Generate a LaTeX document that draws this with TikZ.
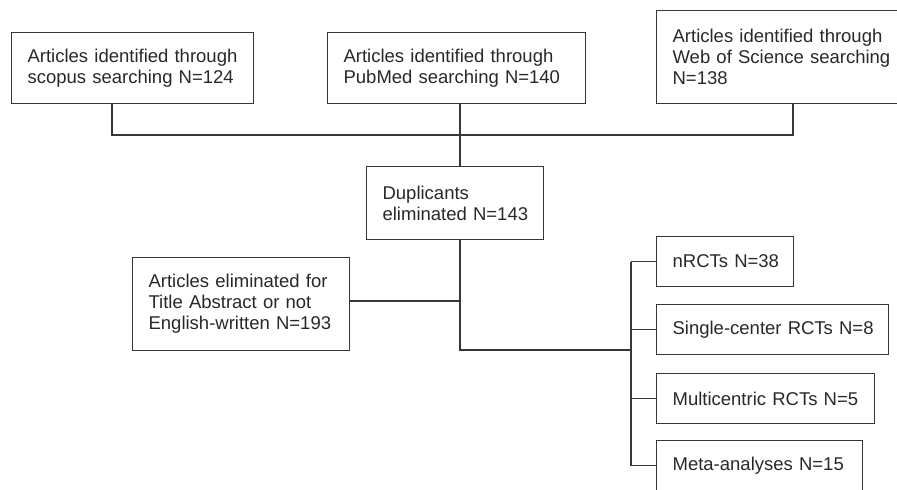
\documentclass[tikz,border=0pt]{standalone}
\usepackage{fontspec}
\setmainfont{Liberation Sans}
\definecolor{linec}{RGB}{55,55,55}
\definecolor{textc}{RGB}{40,40,40}
\begin{document}
\begin{tikzpicture}[x=1pt,y=-1pt,
  box/.style={draw=linec, line width=1.2pt, anchor=north west, inner xsep=16pt, inner ysep=2pt,
    align=left, text=textc, font=\fontsize{18.5}{21}\selectfont},
  conn/.style={draw=linec, line width=1.2pt}]
\useasboundingbox (0,0) rectangle (897,490);
\clip (0,0) rectangle (897,490);
% top row
\node[box, text width=210pt, minimum height=71pt] (b1) at (11,32)
  {\mbox{Articles identified through}\\\mbox{scopus searching N=124}};
\node[box, text width=226pt, minimum height=71pt] (b2) at (327,32)
  {\mbox{Articles identified through}\\\mbox{PubMed searching N=140}};
\node[box, text width=228pt, minimum height=93pt] (b3) at (656,10)
  {\mbox{Articles identified through}\\\mbox{Web of Science searching}\\\mbox{N=138}};
% middle
\node[box, text width=145pt, minimum height=73pt] (dup) at (366,166)
  {\mbox{Duplicants}\\\mbox{eliminated N=143}};
\node[box, text width=185pt, minimum height=93pt] (elim) at (132,257)
  {\mbox{Articles eliminated for}\\\mbox{Title Abstract or not}\\\mbox{English-written N=193}};
% right column
\node[box, text width=105pt, minimum height=50pt] (nrct) at (656,236)
  {\mbox{nRCTs N=38}};
\node[box, text width=200pt, minimum height=50pt] (single) at (656,304)
  {\mbox{Single-center RCTs N=8}};
\node[box, text width=186pt, minimum height=50pt] (multi) at (656,373)
  {\mbox{Multicentric RCTs N=5}};
\node[box, text width=174pt, minimum height=50pt] (meta) at (656,440)
  {\mbox{Meta-analyses N=15}};
% connectors
\coordinate (jL) at (112,135);
\coordinate (jR) at (793,135);
\coordinate (jM) at (460,135);
\draw[conn] (b1.south -| jL) -- (jL) -- (jR) -- (b3.south -| jR);
\draw[conn] (b2.south -| jM) -- (dup.north -| jM);
\coordinate (e1) at (460,301);
\coordinate (e2) at (460,350);
\coordinate (bus) at (631,350);
\draw[conn] (dup.south -| e1) -- (e2) -- (bus);
\draw[conn] (elim.east |- e1) -- (e1);
\draw[conn] (bus |- nrct.west) -- (bus |- meta.west);
\foreach \n in {nrct,single,multi,meta}
  \draw[conn] (bus |- \n.west) -- (\n.west);
\end{tikzpicture}
\end{document}
